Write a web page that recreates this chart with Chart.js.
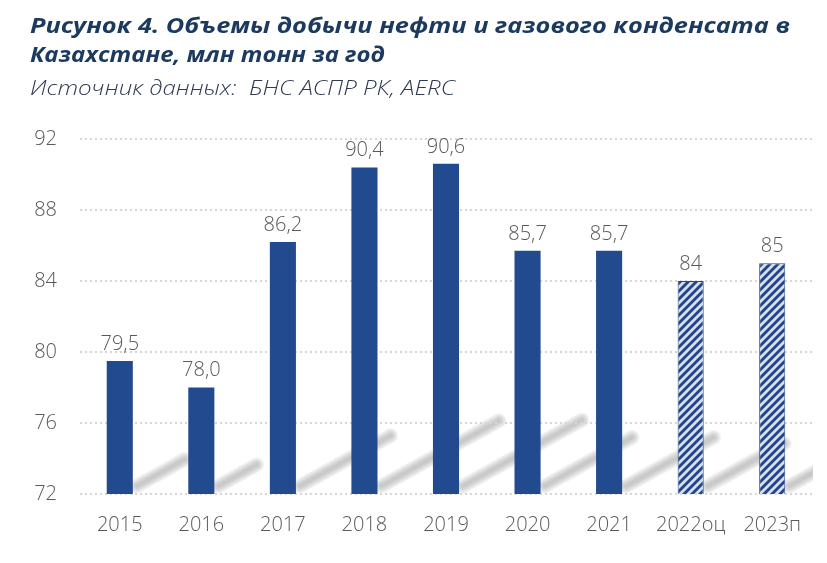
<!DOCTYPE html>
<html>
<head>
<meta charset="utf-8">
<script src="https://cdn.jsdelivr.net/npm/chart.js@4"></script>
<style>
  html, body { margin: 0; padding: 0; background: #fff; }
  #wrap { position: relative; width: 827px; height: 563px; overflow: hidden; }
  .tl {
    position: absolute; left: 30px; white-space: nowrap; transform-origin: 0 50%;
    font-family: 'Open Sans', sans-serif; font-weight: 700; font-style: italic;
    font-size: 21px; line-height: 29px; color: #1b3a5e;
  }
  #source {
    position: absolute; left: 30px; top: 74px; white-space: nowrap; transform-origin: 0 50%;
    font-family: 'Open Sans', sans-serif; font-weight: 300; font-style: italic;
    font-size: 20px; line-height: 28px; color: #2f3b52;
  }
  #chart { position: absolute; left: 0; top: 0; }
</style>
</head>
<body>
<div id="wrap">
  <canvas id="chart" width="827" height="563"></canvas>
  <span class="tl" id="t1" style="top:11px">Рисунок 4. Объемы добычи нефти и газового конденсата в</span>
  <span class="tl" id="t2" style="top:40px">Казахстане, млн тонн за год</span>
  <span id="source">Источник данных:&nbsp; БНС АСПР РК, AERC</span>
</div>
<script>
const years = ['2015', '2016', '2017', '2018', '2019', '2020', '2021', '2022оц', '2023п'];
const production = [79.5, 78.0, 86.2, 90.4, 90.6, 85.7, 85.7, 84, 85];
const valueLabels = ['79,5', '78,0', '86,2', '90,4', '90,6', '85,7', '85,7', '84', '85'];
const isForecast = [false, false, false, false, false, false, false, true, true];
const yTicks = [72, 76, 80, 84, 88, 92];

window.onload = function() {
    fitText('t1', 760);
    fitText('t2', 355);
    fitText('source', 425);
    drawChart();
};

// the italic face here runs narrower than the original one, so widen the heading
function fitText(id, target) {
    const el = document.getElementById(id);
    const w = el.getBoundingClientRect().width;
    let k = target / w;
    k = Math.max(0.9, Math.min(1.3, k));
    el.style.transform = 'scaleX(' + k + ')';
}

function makeHatch() {
    // small diagonal stripe tile for the forecast bars
    const c = document.createElement('canvas');
    c.width = 8; c.height = 8;
    const g = c.getContext('2d');
    const img = g.createImageData(8, 8);
    for (let y = 0; y < 8; y++) {
        for (let x = 0; x < 8; x++) {
            const v = (x + y) % 8;
            const i = (y * 8 + x) * 4;
            let col;
            if (v < 3) col = [38, 68, 138];
            else if (v === 3 || v === 7) col = [120, 140, 190];
            else col = [214, 224, 244];
            img.data[i] = col[0]; img.data[i + 1] = col[1]; img.data[i + 2] = col[2]; img.data[i + 3] = 255;
        }
    }
    g.putImageData(img, 0, 0);
    return document.getElementById('chart').getContext('2d').createPattern(c, 'repeat');
}

// soft grey reflections, painted underneath bars and grid
function drawShadows(chart) {
    const ctx = chart.ctx;
    const area = chart.chartArea;
    const meta = chart.getDatasetMeta(0);
    ctx.save();
    ctx.setLineDash([]);
    ctx.globalCompositeOperation = 'destination-over';
    ctx.beginPath();
    ctx.rect(area.left, area.top, area.right - area.left, area.bottom - area.top);
    ctx.clip();
    ctx.lineCap = 'round';
    meta.data.forEach(function(bar) {
        const bottom = area.bottom;   // bar.base sits at value 0, far below the axis
        const h = bottom - bar.y;
        const x0 = bar.x + bar.width / 2 + 4;
        const y0 = bottom - 8;
        const x1 = x0 + h * 0.36;
        const y1 = y0 - h * 0.2;
        for (let k = 0; k < 7; k++) {
            ctx.strokeStyle = 'rgba(130,122,122,0.08)';
            ctx.lineWidth = 15 - k * 2;
            ctx.beginPath();
            ctx.moveTo(x0, y0);
            ctx.lineTo(x1, y1);
            ctx.stroke();
        }
    });
    ctx.restore();
}

const valuePlugin = {
    id: 'valueLabels',
    afterDatasetsDraw(chart) {
        drawShadows(chart);
        const ctx = chart.ctx;
        const meta = chart.getDatasetMeta(0);
        ctx.save();
        ctx.font = '300 20px "Open Sans", sans-serif';
        ctx.fillStyle = '#595959';
        ctx.textAlign = 'center';
        ctx.textBaseline = 'bottom';
        meta.data.forEach(function(bar, i) {
            ctx.fillText(valueLabels[i], bar.x, bar.y - 7);
        });
        ctx.restore();
    }
};

function drawChart() {
    const hatch = makeHatch();
    const ctx = document.getElementById('chart').getContext('2d');
    new Chart(ctx, {
        type: 'bar',
        data: {
            labels: years,
            datasets: [{
                data: production,
                backgroundColor: isForecast.map(f => f ? hatch : '#224b8f'),
                borderColor: isForecast.map(f => f ? '#2a4a8c' : '#224b8f'),
                borderWidth: isForecast.map(f => f ? 1 : 0),
                categoryPercentage: 1,
                barPercentage: 0.32
            }]
        },
        options: {
            responsive: false,
            animation: false,
            layout: { padding: { top: 139, right: 14, bottom: 0, left: 0 } },
            plugins: {
                legend: { display: false },
                tooltip: { enabled: false }
            },
            scales: {
                x: {
                    grid: { display: false },
                    border: { display: false },
                    ticks: {
                        color: '#595959',
                        padding: 11,
                        font: { family: '"Open Sans", sans-serif', size: 20, weight: '300' }
                    },
                    afterFit(scale) { scale.height = 69; }
                },
                y: {
                    min: 72,
                    max: 92,
                    afterBuildTicks(scale) { scale.ticks = yTicks.map(v => ({ value: v })); },
                    grid: {
                        color: '#d6d6d6',
                        lineWidth: 2,
                        drawTicks: false
                    },
                    border: { display: true, color: 'rgba(0,0,0,0)', dash: [2, 3] },
                    ticks: {
                        color: '#595959',
                        padding: 22,
                        font: { family: '"Open Sans", sans-serif', size: 20, weight: '300' }
                    },
                    afterFit(scale) { scale.width = 79; }
                }
            }
        },
        plugins: [valuePlugin]
    });
}
</script>
</body>
</html>
